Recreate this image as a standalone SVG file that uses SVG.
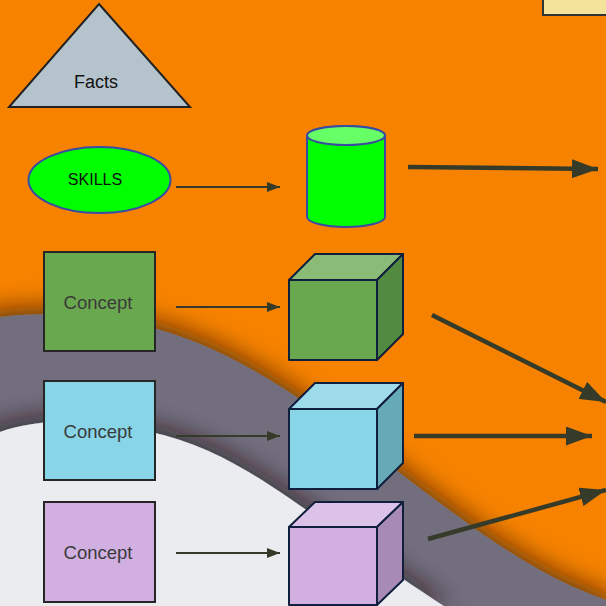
<svg xmlns="http://www.w3.org/2000/svg" width="606" height="606" viewBox="0 0 606 606">
  <style>
    .lbl { font-family: "Liberation Sans", Arial, sans-serif; text-anchor: middle; }
    .concept { fill: #3a3a3a; font-size: 18.5px; }
    .box { stroke: #262626; stroke-width: 2; }
    .cube { stroke: #0f1f3d; stroke-width: 2; stroke-linejoin: round; }
    .thin { stroke: #363b29; stroke-width: 2; fill: none; }
    .thick { stroke: #363b29; stroke-width: 4.5; fill: none; }
  </style>
  <defs>
    <filter id="soft" x="-20%" y="-30%" width="140%" height="160%">
      <feDropShadow dx="0" dy="-7" stdDeviation="12" flood-color="#1a1010" flood-opacity="0.65"/>
    </filter>
    <marker id="headS" markerUnits="userSpaceOnUse" markerWidth="13" markerHeight="10" refX="13" refY="5" orient="auto">
      <path d="M0,0 L13,5 L0,10 z" fill="#363b29"/>
    </marker>
    <marker id="headL" markerUnits="userSpaceOnUse" markerWidth="26" markerHeight="19" refX="26" refY="9.5" orient="auto">
      <path d="M0,0 L26,9.5 L0,19 z" fill="#363b29"/>
    </marker>
  </defs>

  <!-- backdrop: orange field, grey wave band, pale lower field -->
  <rect x="0" y="0" width="606" height="606" fill="#f78200"/>
  <path d="M-20,318 L0,317 C150,300 250,360 350,435 S520,570 606,600 L640,640 L-20,640 z" fill="#736e7e" filter="url(#soft)"/>
  <path d="M-20,434 L0,432 C40,418 100,415 180,440 C262,466 340,540 450,610 L-20,640 z" fill="#ebecef" filter="url(#soft)"/>

  <!-- corner note box -->
  <g id="note">
    <rect x="543" y="-4" width="70" height="19" fill="#f4e39b" stroke="#333" stroke-width="2"/>
  </g>

  <g id="facts">
    <polygon points="99,4 190,107 9,107" fill="#b4c3cc" stroke="#222" stroke-width="2" stroke-linejoin="miter"/>
    <text class="lbl" x="96" y="88" font-size="18" fill="#111">Facts</text>
  </g>

  <g id="skills">
    <ellipse cx="99.5" cy="180" rx="71" ry="33" fill="#00ff00" stroke="#3b4aa0" stroke-width="2"/>
    <text class="lbl" x="95" y="185" font-size="16" fill="#111">SKILLS</text>
  </g>

  <g id="store">
    <path d="M307,135.5 V217 A39,10 0 0 0 385,217 V135.5 A39,9.5 0 0 0 307,135.5 z" fill="#00ff00" stroke="#3b4aa0" stroke-width="2"/>
    <ellipse cx="346" cy="135.5" rx="39" ry="9.5" fill="#66ff66" stroke="#3b4aa0" stroke-width="2"/>
  </g>

  <g id="concept1">
    <rect class="box" x="44" y="252" width="111" height="99" fill="#6aa84f"/>
    <text class="lbl concept" x="98" y="309">Concept</text>
  </g>
  <g id="concept2">
    <rect class="box" x="44" y="381" width="111" height="99" fill="#87d5e7"/>
    <text class="lbl concept" x="98" y="438">Concept</text>
  </g>
  <g id="concept3">
    <rect class="box" x="44" y="502" width="111" height="100" fill="#d1b0e1"/>
    <text class="lbl concept" x="98" y="559">Concept</text>
  </g>

  <g id="cube1">
    <polygon class="cube" points="289,280 315,254 403,254 377,280" fill="#8abb77"/>
    <polygon class="cube" points="377,280 403,254 403,334 377,360" fill="#538a42"/>
    <rect class="cube" x="289" y="280" width="88" height="80" fill="#6aa84f"/>
  </g>
  <g id="cube2">
    <polygon class="cube" points="289,409 315,383 403,383 377,409" fill="#9edcec"/>
    <polygon class="cube" points="377,409 403,383 403,463 377,489" fill="#67aab7"/>
    <rect class="cube" x="289" y="409" width="88" height="80" fill="#87d5e7"/>
  </g>
  <g id="cube3">
    <polygon class="cube" points="289,527 315,502 403,502 377,527" fill="#dcc2e9"/>
    <polygon class="cube" points="377,527 403,502 403,580 377,605" fill="#a78bb4"/>
    <rect class="cube" x="289" y="527" width="88" height="78" fill="#d1b0e1"/>
  </g>

  <g id="connectors">
    <line class="thin" x1="176" y1="187" x2="280" y2="187" marker-end="url(#headS)"/>
    <line class="thin" x1="176" y1="307" x2="280" y2="307" marker-end="url(#headS)"/>
    <line class="thin" x1="176" y1="436" x2="280" y2="436" marker-end="url(#headS)"/>
    <line class="thin" x1="176" y1="553" x2="280" y2="553" marker-end="url(#headS)"/>
    <line class="thick" x1="408" y1="167" x2="598" y2="169" marker-end="url(#headL)"/>
    <line class="thick" x1="432" y1="315" x2="606" y2="402" marker-end="url(#headL)"/>
    <line class="thick" x1="414" y1="436" x2="592" y2="436" marker-end="url(#headL)"/>
    <line class="thick" x1="428" y1="539" x2="606" y2="490" marker-end="url(#headL)"/>
  </g>
</svg>
